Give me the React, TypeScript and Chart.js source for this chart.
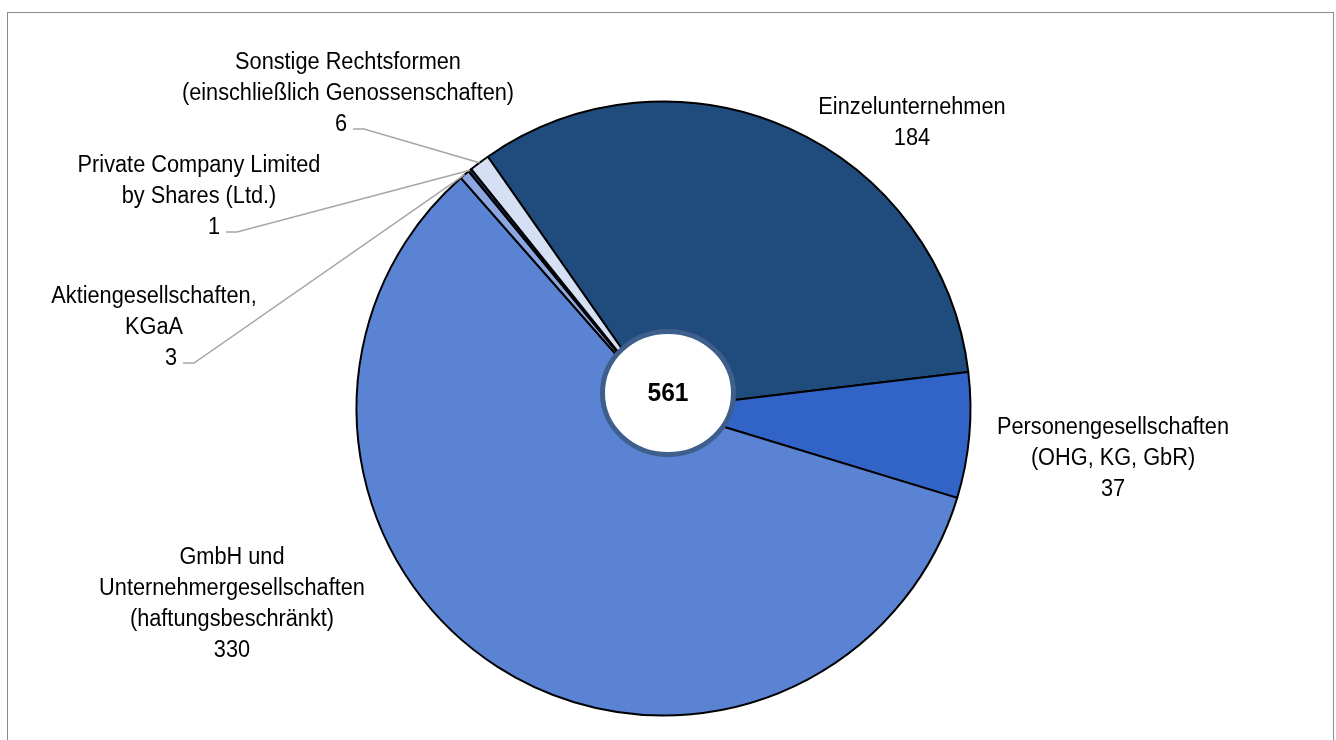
import React, { useEffect, useRef } from "react";
import { Chart, registerables } from "chart.js";

Chart.register(...registerables);

// ---- data ----
const categories = [
  "Einzelunternehmen",
  "Personengesellschaften (OHG, KG, GbR)",
  "GmbH und Unternehmergesellschaften (haftungsbeschränkt)",
  "Aktiengesellschaften, KGaA",
  "Private Company Limited by Shares (Ltd.)",
  "Sonstige Rechtsformen (einschließlich Genossenschaften)",
];
const labelLines: string[][] = [
  ["Einzelunternehmen"],
  ["Personengesellschaften", "(OHG, KG, GbR)"],
  ["GmbH und", "Unternehmergesellschaften", "(haftungsbeschränkt)"],
  ["Aktiengesellschaften,", "KGaA"],
  ["Private Company Limited", "by Shares (Ltd.)"],
  ["Sonstige Rechtsformen", "(einschließlich Genossenschaften)"],
];
const values = [184, 37, 330, 3, 1, 6];

// ---- styles / layout ----
const colors = ["#1F4B7D", "#3264C8", "#5B83D4", "#8CA6E2", "#1E3A6E", "#D6E0F5"];
const labelLayout = [
  { dx: 248.5, dy: -300.5, numDx: 0, leader: false },
  { dx: 449.5, dy: 19.5, numDx: 0, leader: false },
  { dx: -431.5, dy: 149.5, numDx: 0, leader: false },
  { dx: -509.5, dy: -111.5, numDx: 17, leader: true },
  { dx: -464.5, dy: -242.5, numDx: 15, leader: true },
  { dx: -315.5, dy: -345.5, numDx: -7, leader: true },
];
const FONT_FAMILY = '"Liberation Sans", Arial, sans-serif';
const SX = 0.945;
const LINE_H = 31;

const labelsPlugin = {
  id: "pieLabels",
  afterDatasetsDraw(chart: any) {
    const ctx: CanvasRenderingContext2D = chart.ctx;
    const meta = chart.getDatasetMeta(0);
    const arcs = meta.data;
    if (!arcs.length) return;
    const cx = arcs[0].x;
    const cy = arcs[0].y;
    const total = values.reduce((a, b) => a + b, 0);
    ctx.save();
    ctx.textAlign = "center";
    ctx.textBaseline = "middle";
    ctx.font = `23px ${FONT_FAMILY}`;
    arcs.forEach((arc: any, i: number) => {
      const L = labelLayout[i];
      const lines = [...labelLines[i], String(values[i])];
      const x0 = cx + L.dx;
      const y0 = cy + L.dy;
      if (L.leader) {
        const p = arc.getProps(["startAngle", "endAngle", "outerRadius"], true);
        const mid = (p.startAngle + p.endAngle) / 2;
        const ax = cx + Math.cos(mid) * p.outerRadius;
        const ay = cy + Math.sin(mid) * p.outerRadius;
        const w = ctx.measureText(String(values[i])).width * SX;
        const nx = x0 + L.numDx + w / 2 + 6;
        const ny = y0 + (lines.length - 1) * LINE_H + 4;
        ctx.beginPath();
        ctx.moveTo(nx, ny);
        ctx.lineTo(nx + 11, ny);
        ctx.lineTo(ax, ay);
        ctx.strokeStyle = "#A6A6A6";
        ctx.lineWidth = 1.5;
        ctx.stroke();
      }
      ctx.fillStyle = "#000";
      lines.forEach((t, j) => {
        const isNum = j === lines.length - 1;
        const x = x0 + (isNum ? L.numDx : 0);
        const y = y0 + j * LINE_H;
        ctx.save();
        ctx.translate(x, y);
        ctx.scale(SX, 1);
        ctx.fillText(t, 0, 0);
        ctx.restore();
      });
    });
    // center bubble
    const ex = cx + 4.5;
    const ey = cy - 15.5;
    ctx.beginPath();
    ctx.ellipse(ex, ey, 65.5, 61.5, 0, 0, Math.PI * 2);
    ctx.fillStyle = "#FFFFFF";
    ctx.fill();
    ctx.lineWidth = 5;
    ctx.strokeStyle = "#3E5F8C";
    ctx.stroke();
    ctx.fillStyle = "#000";
    ctx.font = `bold 26px ${FONT_FAMILY}`;
    ctx.save();
    ctx.translate(ex, ey + 1);
    ctx.scale(SX, 1);
    ctx.fillText(String(total), 0, 0);
    ctx.restore();
    ctx.restore();
  },
};

export default function App() {
  const ref = useRef<HTMLCanvasElement | null>(null);
  useEffect(() => {
    if (!ref.current) return;
    const chart = new Chart(ref.current, {
      type: "pie",
      data: {
        labels: categories,
        datasets: [
          {
            data: values,
            backgroundColor: colors,
            borderColor: "#000000",
            borderWidth: 2,
          },
        ],
      },
      options: {
        responsive: false,
        animation: false,
        devicePixelRatio: 1,
        rotation: -34.9,
        layout: { padding: { top: 100.5, bottom: 23.5, left: 263.5, right: 272.5 } },
        plugins: { legend: { display: false }, tooltip: { enabled: false } },
        events: [],
      } as any,
      plugins: [labelsPlugin],
    });
    return () => chart.destroy();
  }, []);
  return (
    <div style={{ position: "fixed", left: 0, top: 0, width: 1336, height: 740, overflow: "hidden", background: "#fff" }}>
      <div
        style={{
          position: "absolute",
          left: 7,
          top: 12,
          width: 1327,
          height: 800,
          border: "1.5px solid #8C8C8C",
          boxSizing: "border-box",
        }}
      />
      <canvas ref={ref} width={1336} height={740} style={{ position: "absolute", left: 0, top: 0, width: 1336, height: 740 }} />
    </div>
  );
}
